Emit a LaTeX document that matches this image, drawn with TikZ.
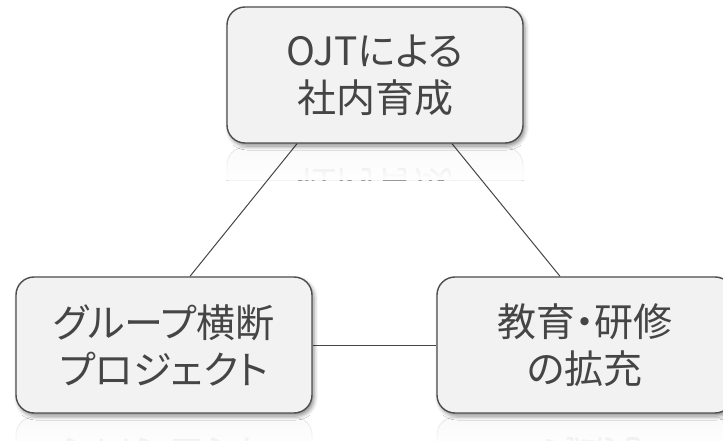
\documentclass[tikz,border=0pt]{standalone}
\usepackage{fontspec}
\setmainfont{Noto Sans CJK JP}[RawFeature=+palt]
\usetikzlibrary{shadows.blur,fadings,calc}
\definecolor{boxfill}{HTML}{F2F2F2}
\definecolor{boxline}{HTML}{4D4D4D}
\definecolor{txt}{HTML}{454545}
\tikzfading[name=coverfade, top color=transparent!40, bottom color=transparent!0]
\pgfdeclarelayer{bg}
\pgfsetlayers{bg,main}
\tikzset{
 card/.style={draw=boxline, line width=1.4pt, fill=boxfill, rounded corners=18pt,
   minimum width=296pt, minimum height=136pt, align=center, text=txt,
   font=\fontsize{39}{47}\selectfont, inner sep=0pt},
 cardshadow/.style={blur shadow={shadow xshift=2pt, shadow yshift=-3pt,
   shadow blur radius=4pt, shadow opacity=45}},
 mirror/.style={yscale=-1, align=center, text=txt!55,
   font=\fontsize{39}{47}\selectfont, inner sep=0pt},
 refl/.style={draw=boxline!35, line width=1pt, fill=boxfill, rounded corners=18pt},
 link/.style={draw=txt, line width=1pt},
 cover/.style={fill=white, path fading=coverfade},
}
\begin{document}
\begin{tikzpicture}[x=1pt,y=-1pt]
\useasboundingbox (0,0) rectangle (723,441);
% boxes
\node[card, cardshadow] (top) at (375,75) {OJTによる\\社内育成};
\node[card, cardshadow] (bl) at (164,345) {グループ横断\\プロジェクト};
\node[card, cardshadow] (br) at (585,345) {教育・研修\\の拡充};
% connector end points
\coordinate (t1) at ($(top.south)+(-78,0)$);
\coordinate (t2) at ($(top.south)+(77,0)$);
\coordinate (l1) at ($(bl.north)+(26,0)$);
\coordinate (r1) at ($(br.north)+(-25,0)$);
\begin{pgfonlayer}{bg}
 % reflection of top box
 \begin{scope}
  \clip (215,145) rectangle (535,180);
  \path[refl] (227,147) rectangle (523,283);
  \node[mirror] (rt) at (375,209) {OJTによる\\社内育成};
  \path[cover] (215,145) rectangle (535,180);
 \end{scope}
 % reflection of bottom-left box
 \begin{scope}
  \clip (5,415) rectangle (325,450);
  \path[refl] (16,417) rectangle (312,553);
  \node[mirror] (rl) at (164,479) {グループ横断\\プロジェクト};
  \path[cover] (5,415) rectangle (325,450);
 \end{scope}
 % reflection of bottom-right box
 \begin{scope}
  \clip (425,415) rectangle (740,450);
  \path[refl] (437,417) rectangle (733,553);
  \node[mirror] (rr) at (585,479) {教育・研修\\の拡充};
  \path[cover] (425,415) rectangle (740,450);
 \end{scope}
 % connectors
 \draw[link] (t1) -- (l1);
 \draw[link] (t2) -- (r1);
 \draw[link] (bl.east) -- (br.west);
\end{pgfonlayer}
\end{tikzpicture}
\end{document}
